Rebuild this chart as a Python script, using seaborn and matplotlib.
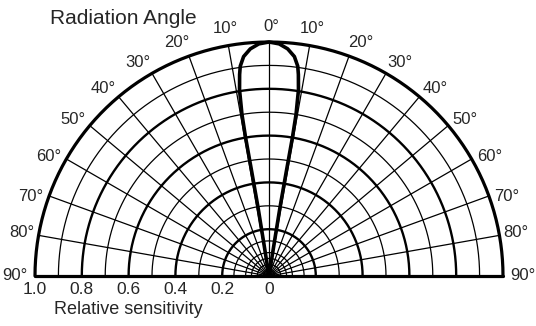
import matplotlib
matplotlib.use("Agg")
import matplotlib.pyplot as plt
import seaborn as sns
import numpy as np
import pandas as pd

# half of the beam (right side): angle in degrees, relative sensitivity
lobe_angle = [0, 2.5, 4.7, 6.6, 7.8, 8.3, 9.0, 9.5, 9.6, 9.4, 9.1, 9.0, 9.0]
lobe_sens = [1.0, 0.993, 0.974, 0.944, 0.905, 0.87, 0.805, 0.70, 0.6, 0.45, 0.3, 0.15, 0.0]

angle_ticks = [0, 10, 20, 30, 40, 50, 60, 70, 80, 90]
sens_ticks = [1.0, 0.8, 0.6, 0.4, 0.2, 0]
sens_labels = ["1.0", "0.8", "0.6", "0.4", "0.2", "0"]
rings_major = [0.2, 0.4, 0.6, 0.8]
rings_minor = [0.025, 0.05, 0.075, 0.1, 0.15, 0.3, 0.5, 0.7, 0.9]

sns.set_style("white")
plt.rcParams['font.family'] = ['Liberation Sans', 'DejaVu Sans']

fig = plt.figure(figsize=(5.36, 3.26), dpi=100)
ax = fig.add_axes([0, 0, 1, 1])

t = np.radians(np.linspace(-90, 90, 361))
for r in rings_minor:
    ax.plot(r * np.sin(t), r * np.cos(t), color="black", lw=0.9)
for r in rings_major:
    ax.plot(r * np.sin(t), r * np.cos(t), color="black", lw=1.7)
ax.plot(np.sin(t), np.cos(t), color="black", lw=2.3)

for a in range(-80, 90, 10):
    th = np.radians(a)
    ax.plot([0, np.sin(th)], [0, np.cos(th)], color="black", lw=0.9)
ax.plot([-1, 1], [0, 0], color="black", lw=2.3)

# beam outline, mirrored to both sides
ang = np.array(lobe_angle)
sens = np.array(lobe_sens)
full_ang = np.concatenate([-ang[::-1], ang[1:]])
full_sens = np.concatenate([sens[::-1], sens[1:]])
df = pd.DataFrame({"x": full_sens * np.sin(np.radians(full_ang)),
                   "y": full_sens * np.cos(np.radians(full_ang))})
sns.lineplot(data=df, x="x", y="y", sort=False, estimator=None,
             color="black", lw=2.6, ax=ax)

ax.set_xlim(-269 / 234, 267 / 234)
ax.set_ylim(-50 / 234, 276 / 234)
ax.axis("off")

for a in angle_ticks:
    if a == 0:
        ax.text(0.01, 1.065, "0°", ha="center", va="center", fontsize=12)
        continue
    th = np.radians(a + 1.5 if 20 <= a <= 70 else a)
    for s in (-1, 1):
        if a == 90:
            x, y = s * 1.085, 0.0
        else:
            x, y = s * 1.072 * np.sin(th), 1.072 * np.cos(th)
        ax.text(x, y, f"{a}°", ha="center", va="center", fontsize=12)

for v, lab in zip(sens_ticks, sens_labels):
    ax.text(-v, -0.056, lab, ha="center", va="center", fontsize=12.5)

ax.text(-0.92, -0.145, "Relative sensitivity", ha="left", va="center", fontsize=13)
ax.text(-0.935, 1.10, "Radiation Angle", ha="left", va="center", fontsize=15)

fig.savefig("out.png", dpi=100)
